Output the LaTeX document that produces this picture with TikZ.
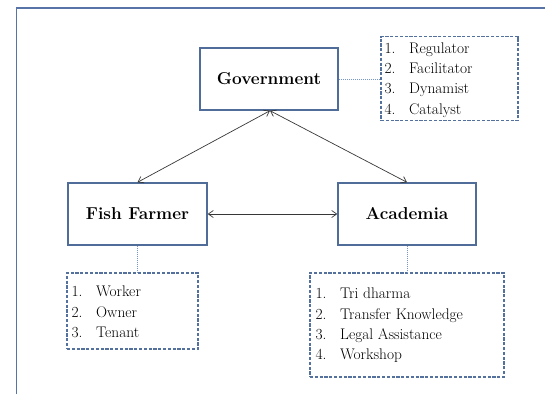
\documentclass[tikz,border=0pt]{standalone}
\usetikzlibrary{arrows.meta}
\definecolor{frameblue}{RGB}{86,116,168}
\definecolor{boxblue}{RGB}{80,108,152}
\definecolor{dashblue}{RGB}{84,112,156}
\definecolor{dotblue}{RGB}{120,150,200}
\definecolor{arrowgray}{RGB}{55,55,55}
\tikzset{
  mainbox/.style={draw=boxblue, line width=1.4pt, fill=white, minimum width=138pt, minimum height=62pt, inner sep=0pt, font=\fontsize{17.2}{20}\selectfont\bfseries},
  listbox/.style={draw=dashblue, line width=1.1pt, dash pattern=on 3.2pt off 1.6pt, inner sep=0pt},
  listtext/.style={anchor=west, inner sep=0pt, align=left, text=black, font=\fontsize{15.4}{20.3}\selectfont},
  dotlink/.style={draw=dotblue, line width=0.8pt, dash pattern=on 1pt off 1pt},
  rel/.style={draw=arrowgray, line width=0.7pt, {Straight Barb[length=5pt,width=7pt]}-{Straight Barb[length=5pt,width=7pt]}}
}
\newcommand{\itm}[1]{\makebox[24.5pt][l]{#1}}
\begin{document}
\begin{tikzpicture}[x=1pt,y=-1pt]
\useasboundingbox (0,0) rectangle (545,394);
% outer frame (partially visible)
\draw[frameblue, line width=1.8pt] (16.5,394) -- (16.5,8) -- (545,8);

% main boxes
\node[mainbox] (gov) at (269,79) {Government};
\node[mainbox, minimum width=139pt] (ff) at (137.5,214) {Fish Farmer};
\node[mainbox] (ac) at (407,214) {Academia};

% list boxes
\node[listbox, minimum width=137pt, minimum height=84pt] (govlist) at (449.5,78.5) {};
\node[listtext] (govlisttext) at ([xshift=4pt,yshift=-1.5pt]govlist.west)
  {\itm{1.}Regulator\\\itm{2.}Facilitator\\\itm{3.}Dynamist\\\itm{4.}Catalyst};

\node[listbox, minimum width=131pt, minimum height=76pt] (fflist) at (132.5,311) {};
\node[listtext] (fflisttext) at ([xshift=5pt,yshift=-1pt]fflist.west)
  {\itm{1.}Worker\\\itm{2.}Owner\\\itm{3.}Tenant};

\node[listbox, minimum width=194pt, minimum height=104pt] (aclist) at (407,325) {};
\node[listtext] (aclisttext) at ([xshift=6pt,yshift=-0.5pt]aclist.west)
  {\itm{1.}Tri dharma\\\itm{2.}Transfer Knowledge\\\itm{3.}Legal Assistance\\\itm{4.}Workshop};

% dotted links
\draw[dotlink] (gov.east) -- (gov.east -| govlist.west);
\draw[dotlink] (ff.south) -- (ff.south |- fflist.north);
\draw[dotlink] (ac.south) -- (aclist.north);

% relations
\coordinate (govb) at ([xshift=1pt]gov.south);
\draw[rel] (govb) -- (ff.north);
\draw[rel] (govb) -- (ac.north);
\draw[rel] (ff.east) -- (ac.west);
\end{tikzpicture}
\end{document}
